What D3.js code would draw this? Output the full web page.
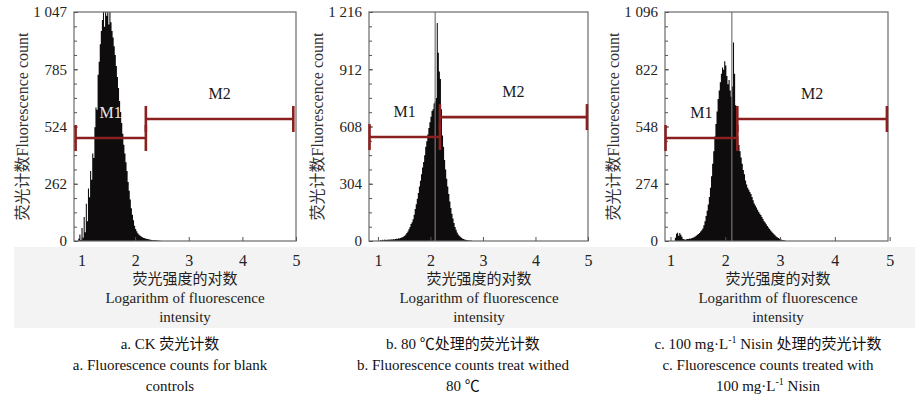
<!DOCTYPE html>
<html>
<head>
<meta charset="utf-8">
<script src="https://cdn.jsdelivr.net/npm/d3@7"></script>
<style>
  body { margin: 0; background: #fff; }
  svg text { font-family: "Liberation Serif", "Noto Sans CJK SC", serif; }
</style>
</head>
<body>
<div id="chart"></div>
<script>
// Histogram bins are 0.02 log units wide; each array starts at the given first bin
var binWidth = 0.02;

var startA = 0.94;
var countsA = [10, 30, 5, 60, 15, 110, 40, 170, 90, 240, 200, 320, 280, 400, 380, 520, 610, 600,
  760, 820, 900, 960, 1010, 1047, 980, 1047, 1030, 1047, 990, 1047, 1000, 960, 930, 890, 850,
  800, 750, 700, 640, 590, 540, 490, 440, 400, 360, 320, 270, 230, 190, 150, 120, 95, 70, 55,
  45, 35, 30, 25, 22, 18, 15, 14, 12, 10, 9, 8, 7, 6, 5, 4, 4, 3, 3, 2, 2, 1, 1];

var startB = 1.04;
var countsB = [5, 3, 6, 4, 8, 5, 7, 6, 8, 6, 9, 7, 10, 8, 11, 12, 10, 14, 13, 16, 18, 20, 24, 28,
  35, 42, 50, 62, 75, 90, 100, 115, 140, 170, 195, 225, 255, 290, 320, 355, 390, 420, 455, 500,
  530, 565, 600, 630, 660, 690, 700, 730, 740, 760, 1157, 1000, 900, 860, 700, 560, 500, 430,
  380, 330, 290, 250, 210, 175, 145, 120, 95, 75, 60, 45, 35, 28, 22, 17, 13, 10, 8, 6, 5, 4,
  3, 2, 2, 1];

var startC = 1.08;
var countsC = [15, 35, 40, 25, 38, 30, 20, 10, 8, 6, 8, 10, 9, 12, 11, 14, 16, 18, 22, 25, 30, 34,
  38, 45, 52, 60, 75, 95, 120, 145, 175, 210, 255, 310, 370, 430, 500, 560, 620, 680, 720, 760,
  800, 830, 820, 860, 840, 790, 750, 770, 720, 690, 740, 950, 800, 650, 560, 500, 460, 430, 400,
  370, 340, 320, 290, 270, 255, 245, 235, 225, 210, 195, 180, 170, 160, 150, 140, 132, 125, 115,
  105, 95, 88, 80, 72, 65, 58, 50, 44, 38, 32, 27, 22, 18, 14, 11, 8, 6, 4, 3, 2];

// thin single-channel spikes [position, count]
var spikeB = [2.09, 1216];
var spikeC = [2.12, 1096];

// y-axis maxima
var yMaxA = 1047, yMaxB = 1216, yMaxC = 1096;

// gates: [name, from, to, level]
var gatesA = [["M1", 0.89, 2.2, 471], ["M2", 2.2, 4.95, 558]];
var gatesB = [["M1", 0.84, 2.18, 552], ["M2", 2.18, 4.98, 658]];
var gatesC = [["M1", 0.91, 2.22, 493], ["M2", 2.22, 4.95, 584]];

var xTicks = [1, 2, 3, 4, 5];

var xTitle = ["荧光强度的对数", "Logarithm of fluorescence", "intensity"];
var yTitle = "荧光计数Fluorescence count";

var captionA = ["a. CK 荧光计数", "a. Fluorescence counts for blank", "controls"];
var captionB = ["b. 80 ℃处理的荧光计数", "b. Fluorescence counts treat withed", "80 ℃"];
var captionC = ["c. 100 mg·L|-1| Nisin 处理的荧光计数", "c. Fluorescence counts treated with", "100 mg·L|-1| Nisin"];

var svgWidth = 915, svgHeight = 394;
var plotTop = 12, plotBottom = 241;

var svg = d3.select("#chart").append("svg")
  .attr("width", svgWidth)
  .attr("height", svgHeight);

// light grey band behind the x-axis text
svg.append("rect")
  .attr("x", 14).attr("y", 247)
  .attr("width", svgWidth - 14).attr("height", 81)
  .attr("fill", "#f3f3f3");

var fmt = d3.formatLocale({ decimal: ".", thousands: " ", grouping: [3], currency: ["", ""] }).format(",d");

var panels = [
  { start: startA, counts: countsA, spike: null, yMax: yMaxA, gates: gatesA, caption: captionA,
    left: 74, right: 296, domain: [0.86, 5.0], center: 185, capCenter: 170 },
  { start: startB, counts: countsB, spike: spikeB, yMax: yMaxB, gates: gatesB, caption: captionB,
    left: 369, right: 588, domain: [0.83, 5.0], center: 479, capCenter: 463 },
  { start: startC, counts: countsC, spike: spikeC, yMax: yMaxC, gates: gatesC, caption: captionC,
    left: 665, right: 888, domain: [0.9, 4.97], center: 778, capCenter: 768 }
];

// write text where |..| marks a superscript
function richText(sel, str) {
  str.split("|").forEach(function(part, i) {
    var t = sel.append("tspan").text(part);
    if (i % 2 === 1) t.attr("dy", -6).attr("font-size", "10px");
    else if (i > 0) t.attr("dy", 6);
  });
}

panels.forEach(function(p) {
  var x = d3.scaleLinear().domain(p.domain).range([p.left, p.right]);
  var y = d3.scaleLinear().domain([0, p.yMax]).range([plotBottom, plotTop]);

  var g = svg.append("g");

  // histogram as a stepped area
  var bins = p.counts.map(function(c, i) { return { v: p.start + i * binWidth, c: c }; });
  bins.push({ v: p.start + p.counts.length * binWidth, c: 0 });
  var area = d3.area()
    .curve(d3.curveStepAfter)
    .x(function(d) { return x(d.v); })
    .y0(y(0))
    .y1(function(d) { return y(d.c); });
  g.append("path")
    .datum(bins)
    .attr("d", area)
    .attr("fill", "#0e0c0c");

  if (p.spike) {
    g.append("line")
      .attr("x1", x(p.spike[0])).attr("x2", x(p.spike[0]))
      .attr("y1", y(0)).attr("y2", y(p.spike[1]))
      .attr("stroke", "#777").attr("stroke-width", 1.2);
  }

  // frame
  g.append("rect")
    .attr("x", p.left).attr("y", plotTop)
    .attr("width", p.right - p.left).attr("height", plotBottom - plotTop)
    .attr("fill", "none").attr("stroke", "#6a6a6a").attr("stroke-width", 1.2);

  // y axis: major and minor ticks pointing inward
  var majors = d3.range(0, 5).map(function(i) { return p.yMax * i / 4; });
  var minors = d3.range(0, 17).map(function(i) { return p.yMax * i / 16; });
  g.append("g")
    .attr("transform", "translate(" + p.left + ",0)")
    .call(d3.axisLeft(y).tickValues(minors).tickSize(-3).tickFormat(""))
    .call(function(a) { a.select(".domain").remove(); a.selectAll("line").attr("stroke", "#555"); });
  g.append("g")
    .attr("transform", "translate(" + p.left + ",0)")
    .call(d3.axisLeft(y).tickValues(majors).tickSize(-4).tickPadding(7).tickFormat(function(d) { return fmt(Math.round(d)); }))
    .call(function(a) {
      a.select(".domain").remove();
      a.selectAll("line").attr("stroke", "#555");
      a.selectAll("text").attr("font-size", "15px").attr("fill", "#222")
        .style("font-family", "'Liberation Serif', serif");
    });

  // x axis
  g.append("g")
    .attr("transform", "translate(0," + plotBottom + ")")
    .call(d3.axisBottom(x).tickValues(xTicks).tickSize(-4).tickPadding(14).tickFormat(d3.format("d")))
    .call(function(a) {
      a.select(".domain").remove();
      a.selectAll("line").attr("stroke", "#555");
      a.selectAll("text").attr("font-size", "16px").attr("fill", "#222")
        .style("font-family", "'Liberation Serif', serif");
    });

  // count under a position, used to pick a readable label colour
  function countAt(v) {
    var i = Math.floor((v - p.start) / binWidth);
    return (i >= 0 && i < p.counts.length) ? p.counts[i] : 0;
  }

  // gates
  var gateColor = "#8a2020";
  p.gates.forEach(function(gt) {
    var gy = y(gt[3]);
    g.append("line")
      .attr("x1", x(gt[1])).attr("x2", x(gt[2]))
      .attr("y1", gy).attr("y2", gy)
      .attr("stroke", gateColor).attr("stroke-width", 2.6);
    [gt[1], gt[2]].forEach(function(ex) {
      g.append("line")
        .attr("x1", x(ex)).attr("x2", x(ex))
        .attr("y1", gy - 13).attr("y2", gy + 13)
        .attr("stroke", gateColor).attr("stroke-width", 2.6);
    });
    var lx = (x(gt[1]) + x(gt[2])) / 2;
    var onBars = y(countAt(x.invert(lx))) < gy - 30;
    g.append("text")
      .attr("x", lx)
      .attr("y", gy - 20)
      .attr("text-anchor", "middle")
      .attr("font-size", "16px")
      .attr("fill", onBars ? "#e8e8e8" : "#1a1a1a")
      .text(gt[0]);
  });

  // y title
  g.append("text")
    .attr("transform", "translate(" + (p.left - 52) + "," + ((plotTop + plotBottom) / 2) + ") rotate(-90)")
    .attr("text-anchor", "middle")
    .attr("dy", "0.35em")
    .attr("font-size", "16px")
    .attr("fill", "#333")
    .text(yTitle);

  // x title
  xTitle.forEach(function(line, i) {
    g.append("text")
      .attr("x", p.center)
      .attr("y", 284 + i * 19)
      .attr("text-anchor", "middle")
      .attr("font-size", "15px")
      .attr("fill", "#222")
      .text(line);
  });

  // caption
  p.caption.forEach(function(line, i) {
    var t = g.append("text")
      .attr("x", p.capCenter)
      .attr("y", 349 + i * 21)
      .attr("text-anchor", "middle")
      .attr("font-size", "15px")
      .attr("fill", "#111");
    richText(t, line);
  });
});
</script>
</body>
</html>
